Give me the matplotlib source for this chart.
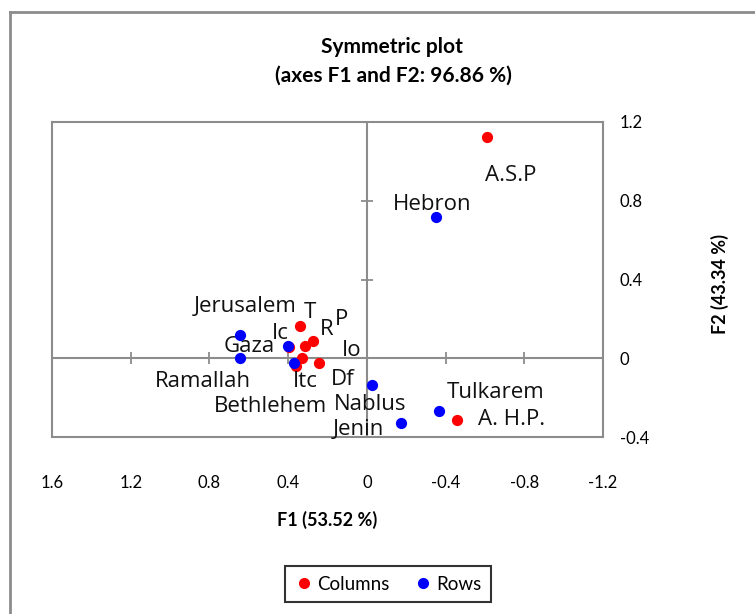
import matplotlib
matplotlib.use("Agg")
import matplotlib.pyplot as plt
from matplotlib.lines import Line2D

# column points (red)
col_names = ["T", "R", "P", "Io", "Df", "Itc", "Ic", "A.S.P", "A. H.P."]
col_f1 = [0.339, 0.314, 0.273, 0.329, 0.243, 0.359, 0.395, -0.613, -0.456]
col_f2 = [0.162, 0.061, 0.086, 0.0, -0.025, -0.041, 0.058, 1.124, -0.314]

# row points (blue)
row_names = ["Jerusalem", "Ramallah", "Gaza", "Bethlehem", "Nablus", "Jenin", "Tulkarem", "Hebron"]
row_f1 = [0.643, 0.643, 0.400, 0.370, -0.025, -0.172, -0.365, -0.349]
row_f2 = [0.116, 0.0, 0.061, -0.025, -0.137, -0.329, -0.268, 0.719]

x_ticks = [1.6, 1.2, 0.8, 0.4, 0, -0.4, -0.8, -1.2]
y_ticks = [-0.4, 0, 0.4, 0.8, 1.2]

# label offsets in pixels (dx right, dy down)
col_off = [(10, -14), (22, -17), (28, -22), (50, -8), (24, 16), (9, 15), (-9, -13), (23, 39), (55, -1)]
row_off = [(5, -29), (-37, 23), (-39, 0), (-24, 43), (-2, 19), (-42, 6), (57, -19), (-3, -12)]

grey = "#8c8c8c"
lab_font = "Open Sans"
tick_font = "Lato"

fig = plt.figure(figsize=(7.55, 6.14), dpi=100)
ax = fig.add_axes([52 / 755, 1 - 437 / 614, 551 / 755, 315 / 614])

# outer frame of the chart area
fig.add_artist(Line2D([10 / 755, 10 / 755], [0, 1 - 12 / 614], color=grey, lw=2, transform=fig.transFigure))
fig.add_artist(Line2D([10 / 755, 1], [1 - 12 / 614, 1 - 12 / 614], color=grey, lw=2, transform=fig.transFigure))

ax.set_xlim(1.6, -1.2)
ax.set_ylim(-0.4, 1.2)

ax.axhline(0, color=grey, lw=1.5, zorder=1)
ax.axvline(0, color=grey, lw=1.5, zorder=1)
# small tick marks on the cross
ax.plot([t for t in x_ticks if t != 0], [0] * (len(x_ticks) - 1), ls="none", marker="|", ms=8, mew=1.3, color=grey, zorder=1)
ax.plot([0] * (len(y_ticks) - 1), [t for t in y_ticks if t != 0], ls="none", marker="_", ms=8, mew=1.3, color=grey, zorder=1)

ax.scatter(col_f1, col_f2, s=50, color="#ff0000", zorder=3, label="Columns")
ax.scatter(row_f1, row_f2, s=50, color="#0000ff", zorder=4, label="Rows")

for name, x, y, (dx, dy) in zip(col_names, col_f1, col_f2, col_off):
    ax.annotate(name, (x, y), xytext=(dx, -dy), textcoords="offset pixels",
                ha="center", va="center", fontsize=16, family=lab_font, color="#111111")
for name, x, y, (dx, dy) in zip(row_names, row_f1, row_f2, row_off):
    ax.annotate(name, (x, y), xytext=(dx, -dy), textcoords="offset pixels",
                ha="center", va="center", fontsize=16, family=lab_font, color="#111111")

for s in ax.spines.values():
    s.set_color(grey)
    s.set_linewidth(1.5)

ax.set_xticks(x_ticks)
ax.set_xticklabels([f"{t:g}" for t in x_ticks], family=tick_font, fontsize=12)
ax.set_yticks(y_ticks)
ax.set_yticklabels([f"{t:g}" for t in y_ticks], family=tick_font, fontsize=12, ha="left")
ax.yaxis.tick_right()
ax.tick_params(axis="x", length=0, pad=27)
ax.tick_params(axis="y", length=0, pad=12)

fig.text(327 / 755, 1 - 520 / 614, "F1 (53.52 %)", ha="center", va="center",
         fontsize=13, fontweight="bold", family=tick_font)
fig.text(720 / 755, 1 - 284 / 614, "F2 (43.34 %)", ha="center", va="center", rotation=90,
         fontsize=13, fontweight="bold", family=tick_font)

fig.text(392 / 755, 1 - 47 / 614, "Symmetric plot", ha="center", va="center",
         fontsize=15, fontweight="bold", family=tick_font)
fig.text(393 / 755, 1 - 76 / 614, "(axes F1 and F2: 96.86 %)", ha="center", va="center",
         fontsize=15, fontweight="bold", family=tick_font)

handles = [Line2D([], [], ls="none", marker="o", ms=7, color="#ff0000", label="Columns"),
           Line2D([], [], ls="none", marker="o", ms=7, color="#0000ff", label="Rows")]
leg = fig.legend(handles=handles, loc="center", bbox_to_anchor=(388 / 755, 1 - 584 / 614), ncol=2,
                 fancybox=False, edgecolor="black", prop={"family": tick_font, "size": 13.5},
                 handletextpad=0.2, columnspacing=1.3, handlelength=1.0, borderpad=0.5)
leg.get_frame().set_linewidth(1.5)

fig.savefig("out.png", dpi=100)
